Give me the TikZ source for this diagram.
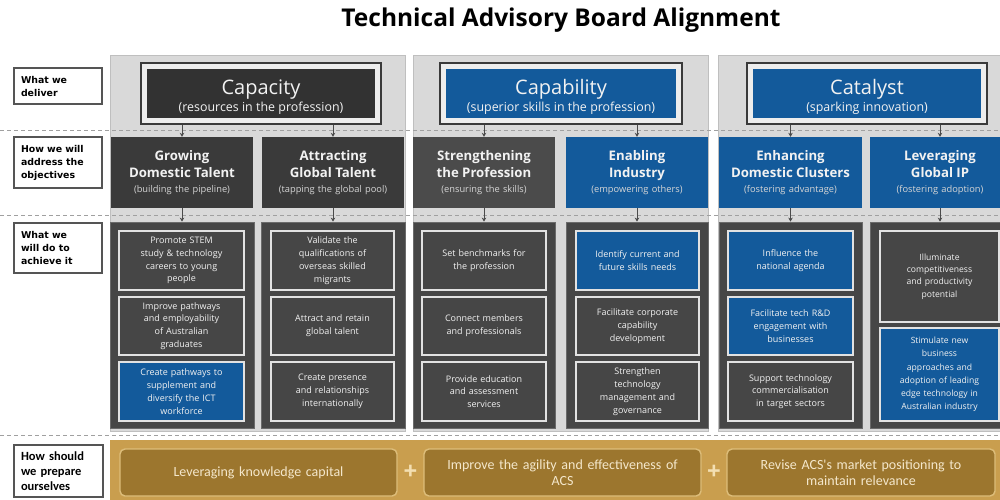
\documentclass[tikz,border=0pt]{standalone}
\usepackage{fontspec}
\setmainfont{Open Sans}
\newfontfamily\labelfont{DejaVu Sans}
\newfontfamily\calfont{Carlito}
\usetikzlibrary{arrows.meta}

\definecolor{panelbg}{HTML}{D9D9D9}
\definecolor{panelln}{HTML}{BFBFBF}
\definecolor{darkhead}{HTML}{323232}
\definecolor{darksub}{HTML}{3A3A3A}
\definecolor{midsub}{HTML}{4B4B4B}
\definecolor{actbg}{HTML}{464646}
\definecolor{itembg}{HTML}{464646}
\definecolor{itemln}{HTML}{E2E2E2}
\definecolor{acsblue}{HTML}{135A9B}
\definecolor{framegray}{HTML}{3A3A3A}
\definecolor{framefill}{HTML}{EDEDED}
\definecolor{dashgray}{HTML}{A0A0A0}
\definecolor{goldbg}{HTML}{C99E4E}
\definecolor{goldbox}{HTML}{9C762E}
\definecolor{goldln}{HTML}{DDBD7A}
\definecolor{goldtext}{HTML}{F4E7CB}
\definecolor{plusc}{HTML}{F3DFB2}
\definecolor{labelln}{HTML}{555555}
\definecolor{txtlight}{HTML}{F2F2F2}
\definecolor{txtsoft}{HTML}{D6D6D6}
\definecolor{arrowc}{HTML}{4A4A4A}

% box from (x1,y1) to (x2,y2), y measured downwards
\newcommand\placebox[7]{%
  \pgfmathsetmacro\bw{#5-#3}\pgfmathsetmacro\bh{#6-#4}%
  \pgfmathsetmacro\bx{(#3+#5)/2}\pgfmathsetmacro\by{(#4+#6)/2}%
  \pgfmathsetmacro\tw{max(#5-#3-6,10)}%
  \node[#2, inner sep=0pt, minimum width=\bw pt, minimum height=\bh pt,
        text width=\tw pt] (#1) at (\bx,\by) {#7};}

\tikzset{
  sidelabel/.style={draw=labelln, line width=1.8pt, fill=white, align=left,
    font=\labelfont\bfseries\fontsize{9.4}{13}\selectfont},
  panel/.style={fill=panelbg, draw=panelln, line width=0.8pt},
  headframe/.style={draw=framegray, line width=2pt, fill=framefill},
  headbox/.style={fill=#1, text=txtlight, align=center, font=\fontsize{10}{12}\selectfont},
  subbox/.style={fill=#1, text=txtlight, align=center, font=\fontsize{10}{12}\selectfont},
  actpanel/.style={fill=actbg, draw=actbg!80!white, line width=0.8pt},
  item/.style={fill=#1, draw=itemln, line width=1.6pt, text=txtlight, align=center,
    font=\fontsize{9}{12.8}\selectfont},
  goldbtn/.style={rounded corners=5pt, fill=goldbox, draw=goldln, line width=1.4pt,
    text=goldtext, align=center, font=\calfont\fontsize{14}{15.5}\selectfont},
  sep/.style={draw=dashgray, line width=1pt, dash pattern=on 4pt off 3pt},
  arr/.style={draw=arrowc, line width=1pt, -{Stealth[length=4pt,width=4.5pt]}},
  plus/.style={text=plusc, font=\bfseries\fontsize{24}{24}\selectfont}
}

\newcommand\headtext[2]{{\fontsize{20}{24}\selectfont\rule{0pt}{22pt}#1}\\[2.5pt]{\fontsize{12.4}{13}\selectfont #2}}
\newcommand\subtext[3]{{\bfseries\fontsize{13.2}{17}\selectfont #1}\\[2.5pt]{\bfseries\fontsize{13.2}{17}\selectfont #2}\\[2.5pt]{\color{txtsoft}\fontsize{9.3}{11}\selectfont #3}}

\begin{document}
\begin{tikzpicture}[x=1pt,y=-1pt]
\useasboundingbox (0,0) rectangle (1000,499);
\clip (0,0) rectangle (1000,499);
\fill[white] (0,0) rectangle (1000,499);

% title
\node[font=\bfseries\fontsize{24.5}{28}\selectfont] (title) at (561,20) {Technical Advisory Board Alignment};

% column backgrounds
\placebox{P1}{panel}{110}{55}{405}{431}{}
\placebox{P2}{panel}{413}{55}{708}{431}{}
\placebox{P3}{panel}{718}{55}{1012}{431}{}

% row separators
\draw[sep] (0,130) -- (1000,130);
\draw[sep] (0,215) -- (1000,215);
\draw[sep] (0,435) -- (1000,435);

% row labels
\placebox{L1}{sidelabel}{14}{68}{102}{104}{\hspace*{4pt}What we\\\hspace*{4pt}deliver}
\placebox{L2}{sidelabel}{14}{137}{102}{188}{\hspace*{4pt}How we will\\\hspace*{4pt}address the\\\hspace*{4pt}objectives}
\placebox{L3}{sidelabel}{14}{223}{102}{273}{\hspace*{4pt}What we\\\hspace*{4pt}will do to\\\hspace*{4pt}achieve it}
\placebox{L4}{sidelabel, font=\calfont\bfseries\fontsize{12.5}{15}\selectfont}{14}{445}{103}{497}{\hspace*{4pt}How should\\\hspace*{4pt}we prepare\\\hspace*{4pt}ourselves}

% what we deliver
\placebox{F1}{headframe}{141}{63}{381}{124}{}
\placebox{H1}{headbox=darkhead}{147}{69}{375}{118}{\headtext{Capacity}{(resources in the profession)}}
\placebox{F2}{headframe}{440}{63}{682}{124}{}
\placebox{H2}{headbox=acsblue}{446}{69}{676}{118}{\headtext{Capability}{(superior skills in the profession)}}
\placebox{F3}{headframe}{747}{63}{987}{124}{}
\placebox{H3}{headbox=acsblue}{753}{69}{981}{118}{\headtext{Catalyst}{(sparking innovation)}}

% objectives
\placebox{S1}{subbox=darksub}{111}{137}{253}{208}{\subtext{Growing}{Domestic Talent}{(building the pipeline)}}
\placebox{S2}{subbox=darksub}{262}{137}{404}{208}{\subtext{Attracting}{Global Talent}{(tapping the global pool)}}
\placebox{S3}{subbox=midsub}{413}{137}{555}{208}{\subtext{Strengthening}{the Profession}{(ensuring the skills)}}
\placebox{S4}{subbox=acsblue}{566}{137}{708}{208}{\subtext{Enabling}{Industry}{(empowering others)}}
\placebox{S5}{subbox=acsblue}{719}{137}{862}{208}{\subtext{Enhancing}{Domestic Clusters}{(fostering advantage)}}
\placebox{S6}{subbox=acsblue}{870}{137}{1010}{208}{\subtext{Leveraging}{Global IP}{(fostering adoption)}}

% action panels
\placebox{A1}{actpanel}{110}{222}{254}{428}{}
\placebox{A2}{actpanel}{261}{222}{405}{428}{}
\placebox{A3}{actpanel}{413}{222}{555}{428}{}
\placebox{A4}{actpanel}{566}{222}{708}{428}{}
\placebox{A5}{actpanel}{719}{222}{862}{428}{}
\placebox{A6}{actpanel}{870}{222}{1012}{428}{}

% actions
\placebox{a11}{item=itembg}{119}{231}{244}{290}{Promote STEM\\study \& technology\\careers to young\\people}
\placebox{a12}{item=itembg}{119}{297}{244}{355}{Improve pathways\\and employability\\of Australian\\graduates}
\placebox{a13}{item=acsblue}{119}{362}{244}{421}{Create pathways to\\supplement and\\diversify the ICT\\workforce}

\placebox{a21}{item=itembg}{271}{231}{394}{290}{Validate the\\qualifications of\\overseas skilled\\migrants}
\placebox{a22}{item=itembg}{271}{297}{394}{355}{Attract and retain\\global talent}
\placebox{a23}{item=itembg}{271}{362}{394}{421}{Create presence\\and relationships\\internationally}

\placebox{a31}{item=itembg}{422}{231}{546}{290}{Set benchmarks for\\the profession}
\placebox{a32}{item=itembg}{422}{297}{546}{355}{Connect members\\and professionals}
\placebox{a33}{item=itembg}{422}{362}{546}{421}{Provide education\\and assessment\\services}

\placebox{a41}{item=acsblue}{576}{231}{699}{290}{Identify current and\\future skills needs}
\placebox{a42}{item=itembg}{576}{297}{699}{355}{Facilitate corporate\\capability\\development}
\placebox{a43}{item=itembg}{576}{362}{699}{421}{Strengthen\\technology\\management and\\governance}

\placebox{a51}{item=acsblue}{728}{231}{853}{290}{Influence the\\national agenda}
\placebox{a52}{item=acsblue}{728}{297}{853}{355}{Facilitate tech R\&D\\engagement with\\businesses}
\placebox{a53}{item=itembg}{728}{362}{853}{421}{Support technology\\commercialisation\\in target sectors}

\placebox{a61}{item=itembg, font=\fontsize{8.6}{12.3}\selectfont}{880}{231}{999}{322}{Illuminate\\competitiveness\\and productivity\\potential}
\placebox{a62}{item=acsblue, font=\fontsize{8.6}{13.2}\selectfont}{880}{328}{999}{421}{Stimulate new\\business\\approaches and\\adoption of leading\\edge technology in\\Australian industry}

% connectors
\foreach \f/\s in {F1/S1,F1/S2,F2/S3,F2/S4,F3/S5,F3/S6}
  \draw[arr] (\f.south -| \s.north) -- (\s.north);
\foreach \s/\a in {S1/A1,S2/A2,S3/A3,S4/A4,S5/A5,S6/A6}
  \draw[arr] (\s.south) -- (\s.south |- \a.north);

% preparation band
\placebox{band}{fill=goldbg}{110}{440}{1012}{510}{}
\placebox{G1}{goldbtn}{120}{449}{397}{496}{Leveraging knowledge capital}
\placebox{G2}{goldbtn}{424}{449}{701}{496}{Improve the agility and effectiveness of\\ACS}
\placebox{G3}{goldbtn}{727}{449}{995}{496}{Revise ACS's market positioning to\\maintain relevance}
\node[plus] (plus1) at (410.5,472) {+};
\node[plus] (plus2) at (714,472) {+};
\end{tikzpicture}
\end{document}
